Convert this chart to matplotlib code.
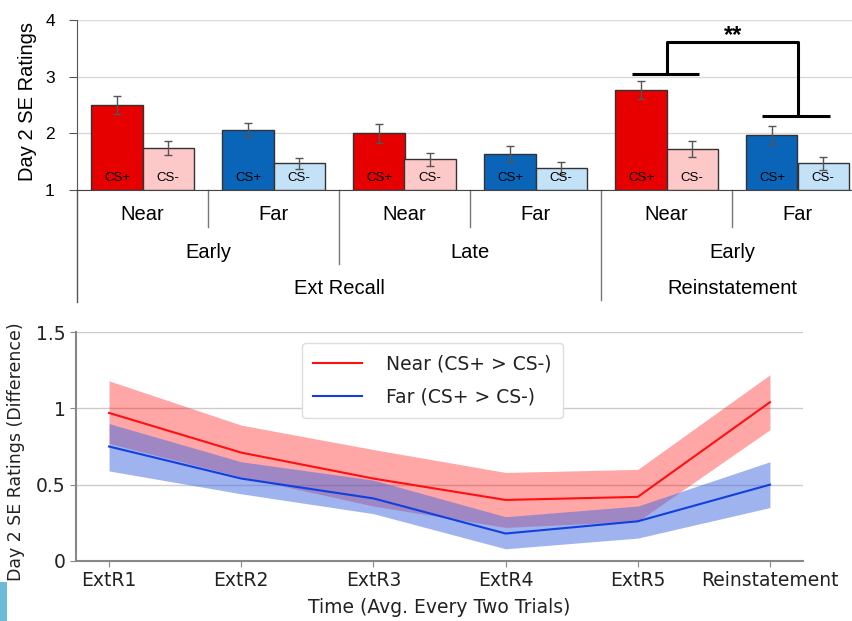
import matplotlib
matplotlib.use("Agg")
import matplotlib.pyplot as plt
import matplotlib.transforms as mtransforms
from matplotlib.patches import Rectangle
import numpy as np

# ---- top panel data: Day 2 SE ratings per condition
cats = ["Near", "Far", "Near", "Far", "Near", "Far"]
phases = ["Early", "Late", "Early"]
stages = ["Ext Recall", "Reinstatement"]
cs_plus = [2.50, 2.06, 2.00, 1.64, 2.76, 1.97]
cs_plus_err = [0.16, 0.13, 0.17, 0.14, 0.16, 0.16]
cs_minus = [1.74, 1.47, 1.54, 1.39, 1.72, 1.47]
cs_minus_err = [0.12, 0.10, 0.12, 0.10, 0.14, 0.12]
plus_colors = ["#e60000", "#0a64b8", "#e60000", "#0a64b8", "#e60000", "#0a64b8"]
minus_colors = ["#fcc8c8", "#c3e1f7", "#fcc8c8", "#c3e1f7", "#fcc8c8", "#c3e1f7"]

# ---- bottom panel data: CS+ > CS- difference over time
times = ["ExtR1", "ExtR2", "ExtR3", "ExtR4", "ExtR5", "Reinstatement"]
near_mean = [0.97, 0.71, 0.54, 0.40, 0.42, 1.04]
near_hi = [1.18, 0.89, 0.73, 0.58, 0.60, 1.22]
near_lo = [0.77, 0.55, 0.36, 0.22, 0.26, 0.86]
far_mean = [0.75, 0.54, 0.41, 0.18, 0.26, 0.50]
far_hi = [0.90, 0.65, 0.53, 0.29, 0.36, 0.65]
far_lo = [0.59, 0.44, 0.31, 0.08, 0.15, 0.35]

W, H = 853, 621
fig = plt.figure(figsize=(W / 100, H / 100), dpi=100)

# ================= top panel =================
arial = "Liberation Sans"
ax1 = fig.add_axes([77 / W, 1 - 190 / H, 1 - 77 / W, 170 / H])
x = np.arange(len(cats))
bw = 0.39
ax1.bar(x - bw / 2, np.array(cs_plus) - 1, bw, bottom=1, color=plus_colors,
        edgecolor="#333333", linewidth=1, zorder=3)
ax1.bar(x + bw / 2, np.array(cs_minus) - 1, bw, bottom=1, color=minus_colors,
        edgecolor="#333333", linewidth=1, zorder=3)
ax1.errorbar(x - bw / 2, cs_plus, yerr=cs_plus_err, fmt="none", ecolor="#555555",
             elinewidth=1, capsize=3, capthick=1, zorder=4)
ax1.errorbar(x + bw / 2, cs_minus, yerr=cs_minus_err, fmt="none", ecolor="#555555",
             elinewidth=1, capsize=3, capthick=1, zorder=4)
for xi in x:
    ax1.text(xi - bw / 2, 1.22, "CS+", ha="center", va="center", fontsize=9.5, family=arial, zorder=5)
    ax1.text(xi + bw / 2, 1.22, "CS-", ha="center", va="center", fontsize=9.5, family=arial, zorder=5)

ax1.set_xlim(-0.5, 5.5 - 10 / 131)
ax1.set_ylim(1, 4)
ax1.set_yticks([1, 2, 3, 4])
ax1.set_yticklabels(["1", "2", "3", "4"], family=arial, fontsize=12.5)
ax1.set_xticks([])
ax1.yaxis.grid(True, color="#d9d9d9", linewidth=1)
ax1.set_axisbelow(True)
for s in ["top", "right"]:
    ax1.spines[s].set_visible(False)
ax1.spines["left"].set_color("#555555")
ax1.spines["bottom"].set_color("#444444")
ax1.tick_params(axis="y", length=6, color="#555555", pad=10)
ax1.set_ylabel("Day 2 SE Ratings", family=arial, fontsize=14.5)
ax1.yaxis.set_label_coords(-0.0515, 0.52)

trans = mtransforms.blended_transform_factory(ax1.transData, ax1.transAxes)
# extended left axis line
ax1.plot([-0.5, -0.5], [0, -0.66], transform=trans, color="#555555", lw=1, clip_on=False)
for i, c in enumerate(cats):
    ax1.text(i, -0.147, c, transform=trans, ha="center", va="center", family=arial, fontsize=14.5)
for xs in [0.5, 2.5, 4.5]:
    ax1.plot([xs, xs], [0, -0.218], transform=trans, color="#777777", lw=1, clip_on=False)
for xs in [1.5]:
    ax1.plot([xs, xs], [0, -0.435], transform=trans, color="#777777", lw=1, clip_on=False)
ax1.plot([3.5, 3.5], [0, -0.647], transform=trans, color="#777777", lw=1, clip_on=False)
for i, p in enumerate(phases):
    ax1.text(2 * i + 0.5, -0.37, p, transform=trans, ha="center", va="center", family=arial, fontsize=14.5)
ax1.text(1.5, -0.58, stages[0], transform=trans, ha="center", va="center", family=arial, fontsize=14.5)
ax1.text(4.5, -0.58, stages[1], transform=trans, ha="center", va="center", family=arial, fontsize=14.5)

# significance bracket
bk = dict(color="black", lw=2.2, clip_on=False, solid_capstyle="butt")
ax1.plot([3.74, 4.25], [3.05, 3.05], **bk)
ax1.plot([4.0, 4.0, 5.0, 5.0], [3.05, 3.61, 3.61, 2.31], **bk)
ax1.plot([4.73, 5.25], [2.31, 2.31], **bk)
ax1.text(4.51, 3.72, "**", ha="center", va="center", fontsize=17, fontweight="bold", family=arial)

# ================= bottom panel =================
ax2 = fig.add_axes([76 / W, 1 - 561 / H, (803 - 76) / W, 229 / H])
t = np.arange(len(times))
ax2.fill_between(t, near_lo, near_hi, color="red", alpha=0.35, linewidth=0)
ax2.fill_between(t, far_lo, far_hi, color="#4169e1", alpha=0.5, linewidth=0)
ax2.plot(t, near_mean, color="#ff1010", lw=1.5, label="Near (CS+ > CS-)")
ax2.plot(t, far_mean, color="#1040e0", lw=1.5, label="Far (CS+ > CS-)")
ax2.set_xlim(-0.25, 5.25)
ax2.set_ylim(0, 1.5)
ax2.set_xticks(t)
ax2.set_xticklabels(times, fontsize=13.5)
ax2.set_yticks([0, 0.5, 1, 1.5])
ax2.set_yticklabels(["0", "0.5", "1", "1.5"], fontsize=13.5)
ax2.yaxis.grid(True, color="#cccccc", linewidth=1)
ax2.set_axisbelow(True)
for s in ["top", "right"]:
    ax2.spines[s].set_visible(False)
for s in ["left", "bottom"]:
    ax2.spines[s].set_color("#888888")
    ax2.spines[s].set_linewidth(1.5)
ax2.tick_params(length=4, color="#888888", labelcolor="#222222")
ax2.set_xlabel("Time (Avg. Every Two Trials)", fontsize=13.5, color="#222222")
ax2.xaxis.set_label_coords(0.5, -0.16)
ax2.set_ylabel("Day 2 SE Ratings (Difference)", fontsize=12.5, color="#222222")
ax2.yaxis.set_label_coords(-0.070, 0.476)
leg = ax2.legend(loc="upper left", bbox_to_anchor=(0.311, 0.952), borderaxespad=0,
                 fontsize=13.5, handlelength=2.6, handletextpad=1.3, labelspacing=0.75,
                 borderpad=0.6, framealpha=1, edgecolor="#dddddd", fancybox=True)
for txt in leg.get_texts():
    txt.set_color("#222222")

# small blue strip in the lower-left corner of the figure
fig.patches.append(Rectangle((0, 0), 7 / W, 39 / H, transform=fig.transFigure,
                             facecolor="#6bbbd9", edgecolor="none"))

fig.savefig("out.png", dpi=100)
